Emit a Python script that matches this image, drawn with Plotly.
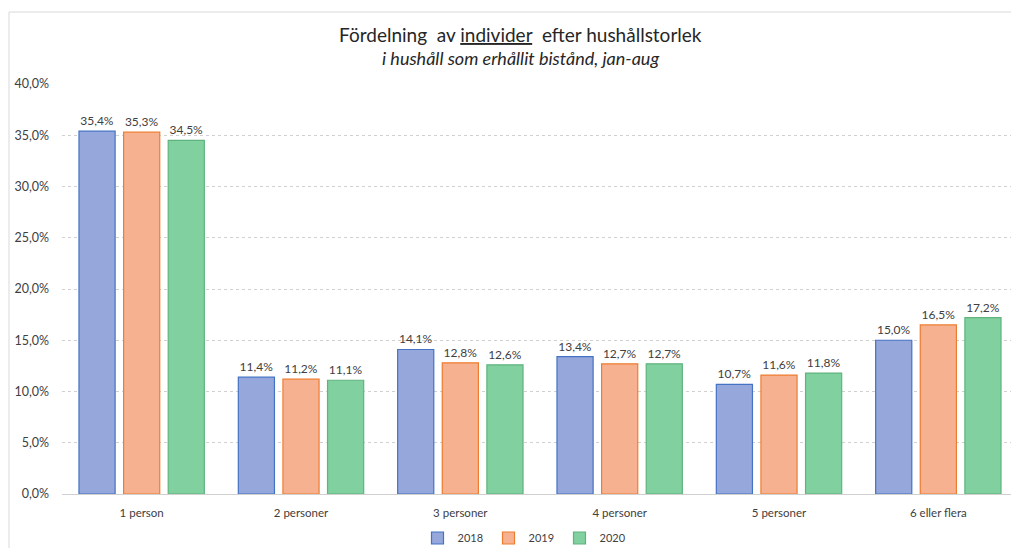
import plotly.graph_objects as go

categories = ["1 person", "2 personer", "3 personer", "4 personer", "5 personer", "6 eller flera"]
years = ["2018", "2019", "2020"]
v2018 = [0.354, 0.114, 0.141, 0.134, 0.107, 0.150]
v2019 = [0.353, 0.112, 0.128, 0.127, 0.116, 0.165]
v2020 = [0.345, 0.111, 0.126, 0.127, 0.118, 0.172]
y_ticks = [0, 0.05, 0.10, 0.15, 0.20, 0.25, 0.30, 0.35, 0.40]

series = [v2018, v2019, v2020]
fills = ["#95a7db", "#f6b290", "#81d09f"]
lines = ["#4472c4", "#ed7d31", "#5fb47e"]

FONT = "Lato, Open Sans, sans-serif"

# page has an 8px body margin: figure coordinates = reference coordinates - 8
OFF = 8
PL, PR, PT, PB = 62 - OFF, 1018 - OFF, 84 - OFF, 494 - OFF
W, H = 1019 - OFF, 548 - OFF
PW, PH = PR - PL, PB - PT


def px(x):
    return (x - OFF - PL) / PW


def py(y):
    return (PB - (y - OFF)) / PH


fig = go.Figure()
for name, vals, fc, lc in zip(years, series, fills, lines):
    fig.add_trace(go.Bar(
        name=name, x=categories, y=vals,
        marker=dict(color=fc, line=dict(color=lc, width=1.2)),
        texttemplate="%{y:.1%}", textposition="outside",
        textfont=dict(size=12, color="#404040", family=FONT),
        cliponaxis=False,
    ))

fig.update_layout(
    width=W, height=H,
    margin=dict(l=PL, r=W - PR, t=PT, b=H - PB, autoexpand=False),
    paper_bgcolor="white", plot_bgcolor="white",
    separators=", ",
    barmode="group", bargap=0.16, bargroupgap=0.19,
    font=dict(family=FONT, color="#404040", size=11),
    showlegend=True,
    legend=dict(orientation="h", x=px(524), xanchor="center",
                y=py(538), yanchor="middle",
                font=dict(size=11, color="#404040"), itemwidth=30,
                entrywidth=26, traceorder="normal"),
    yaxis=dict(range=[0, 0.4], tickvals=y_ticks, tickformat=".1%",
               showgrid=True, gridcolor="#d0d0d0", griddash="dot", gridwidth=1,
               zeroline=False, showline=False, ticks="", ticklabelstandoff=12,
               tickfont=dict(size=12.5, color="#404040")),
    xaxis=dict(showgrid=False, showline=True, linecolor="#d0d0d0", linewidth=1,
               ticks="", ticklabelstandoff=8, tickfont=dict(size=11.5, color="#404040")),
    annotations=[
        dict(text="Fördelning  av <u>individer</u>  efter hushållstorlek", xref="paper", yref="paper",
             x=px(520), y=py(35), xanchor="center", yanchor="middle", showarrow=False,
             font=dict(size=19, color="#262626", family=FONT)),
        dict(text="<i>i hushåll som erhållit bistånd, jan-aug</i>", xref="paper", yref="paper",
             x=px(520), y=py(58), xanchor="center", yanchor="middle", showarrow=False,
             font=dict(size=18, color="#262626", family=FONT)),
    ],
    shapes=[
        dict(type="rect", xref="paper", yref="paper",
             x0=px(9), x1=px(1040), y0=py(560), y1=py(12),
             line=dict(color="#d9d9d9", width=1), layer="below"),
    ],
)

fig.write_html("out.html")
